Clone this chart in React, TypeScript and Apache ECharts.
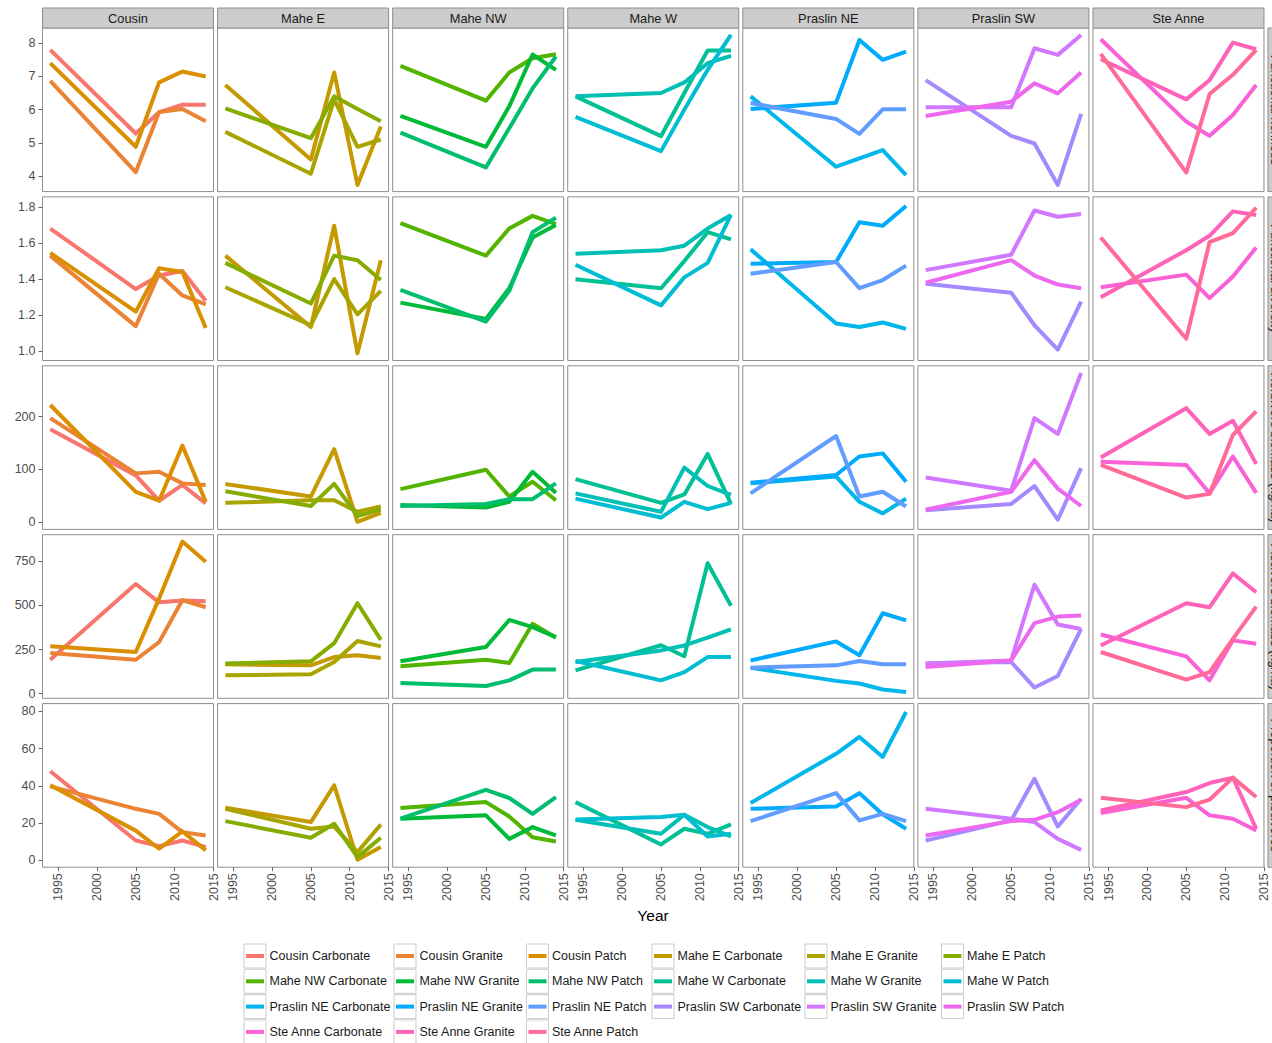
import React, { useEffect, useRef } from "react";
import * as echarts from "echarts";

// ---- data ----
const years = [1994, 2005, 2008, 2011, 2014];
const sites = ["Cousin", "Mahe E", "Mahe NW", "Mahe W", "Praslin NE", "Praslin SW", "Ste Anne"];
const habitats = ["Carbonate", "Granite", "Patch"];
const metricTitles = [
  "Functional richness",
  "Functional diversity",
  "Herbivore biomass (kg/ha)",
  "Piscivore biomass (kg/ha)",
  "Proportion of piscivores",
];

// one row per site x habitat (site-major), one value per survey year
const richness = [
  [7.8, 5.28, 5.92, 6.15, 6.15],
  [6.87, 4.12, 5.93, 6.02, 5.65],
  [7.4, 4.88, 6.82, 7.15, 7.0],
  [6.74, 4.5, 7.12, 3.73, 5.49],
  [5.33, 4.07, 6.3, 4.88, 5.1],
  [6.04, 5.14, 6.4, 6.02, 5.65],
  [7.32, 6.27, 7.12, 7.55, 7.67],
  [5.81, 4.88, 6.1, 7.66, 7.2],
  [5.31, 4.26, 5.44, 6.64, 7.6],
  [6.4, 5.2, 6.5, 7.78, 7.78],
  [6.4, 6.5, 6.82, 7.4, 7.62],
  [5.78, 4.75, 6.0, 7.2, 8.25],
  [6.4, 4.28, 4.53, 4.78, 4.03],
  [6.02, 6.21, 8.1, 7.5, 7.75],
  [6.2, 5.72, 5.27, 6.01, 6.01],
  [6.89, 5.21, 4.98, 3.73, 5.87],
  [6.07, 6.07, 7.85, 7.65, 8.25],
  [5.81, 6.24, 6.79, 6.49, 7.12],
  [8.12, 5.64, 5.21, 5.84, 6.74],
  [7.52, 6.31, 6.89, 8.02, 7.82],
  [7.68, 4.1, 6.47, 7.05, 7.8],
];

const diversity = [
  [1.68, 1.345, 1.42, 1.445, 1.28],
  [1.53, 1.14, 1.43, 1.31, 1.26],
  [1.545, 1.22, 1.46, 1.44, 1.13],
  [1.53, 1.135, 1.695, 0.99, 1.505],
  [1.355, 1.145, 1.4, 1.205, 1.335],
  [1.49, 1.265, 1.53, 1.505, 1.395],
  [1.71, 1.53, 1.68, 1.75, 1.705],
  [1.27, 1.18, 1.35, 1.63, 1.7],
  [1.34, 1.165, 1.335, 1.66, 1.74],
  [1.4, 1.35, 1.5, 1.66, 1.62],
  [1.54, 1.56, 1.585, 1.68, 1.755],
  [1.48, 1.255, 1.41, 1.49, 1.755],
  [1.565, 1.155, 1.135, 1.16, 1.125],
  [1.485, 1.495, 1.715, 1.695, 1.805],
  [1.43, 1.495, 1.35, 1.395, 1.475],
  [1.375, 1.325, 1.145, 1.01, 1.275],
  [1.45, 1.535, 1.78, 1.745, 1.76],
  [1.38, 1.505, 1.42, 1.37, 1.35],
  [1.355, 1.425, 1.295, 1.415, 1.575],
  [1.3, 1.56, 1.64, 1.775, 1.755],
  [1.63, 1.07, 1.605, 1.655, 1.795],
];

const herbivoreBiomass = [
  [176, 88, 40, 70, 35],
  [197, 92, 95, 73, 70],
  [222, 57, 40, 145, 38],
  [72, 48, 138, 0, 17],
  [36, 41, 41, 19, 29],
  [58, 30, 72, 11, 23],
  [62, 99, 48, 76, 41],
  [32, 27, 38, 95, 55],
  [30, 34, 43, 43, 73],
  [81, 36, 52, 129, 34],
  [54, 19, 103, 68, 51],
  [44, 8, 38, 24, 36],
  [73, 86, 38, 16, 44],
  [74, 89, 124, 130, 76],
  [54, 163, 48, 57, 29],
  [22, 34, 68, 4, 102],
  [84, 59, 197, 167, 283],
  [23, 57, 117, 63, 30],
  [114, 108, 54, 124, 55],
  [122, 216, 167, 192, 110],
  [108, 46, 53, 165, 210],
];

const piscivoreBiomass = [
  [192, 622, 518, 528, 524],
  [230, 192, 292, 531, 490],
  [268, 236, 540, 863, 748],
  [166, 160, 207, 217, 202],
  [104, 109, 179, 298, 268],
  [170, 183, 286, 513, 305],
  [155, 192, 173, 396, 317],
  [183, 264, 418, 377, 320],
  [60, 43, 75, 136, 136],
  [132, 274, 212, 740, 499],
  [179, 245, 273, 317, 364],
  [185, 75, 122, 207, 207],
  [147, 72, 57, 23, 9],
  [188, 296, 217, 456, 415],
  [147, 160, 185, 166, 166],
  [170, 179, 34, 100, 367],
  [170, 188, 618, 392, 367],
  [151, 188, 400, 437, 443],
  [335, 211, 75, 302, 283],
  [273, 513, 490, 682, 575],
  [236, 79, 122, 310, 494],
];

const piscivoreShare = [
  [47.8, 10.7, 7.7, 10.7, 7.2],
  [39.7, 27.7, 25, 15.2, 13.4],
  [40.3, 16, 6.3, 15.6, 5.4],
  [28.3, 20.6, 40.3, 0.4, 7.2],
  [27.7, 17, 18.2, 4.5, 19.3],
  [21.1, 12.2, 19.7, 1.8, 12.2],
  [28.1, 31.3, 23.6, 12.5, 10.2],
  [22.4, 24.2, 11.6, 17.9, 13.4],
  [22.4, 37.9, 33.5, 25, 34],
  [31.3, 8.6, 17, 14.3, 19.3],
  [21.8, 14.3, 24.5, 17.9, 12.9],
  [22, 23.3, 24.5, 12.9, 14.3],
  [30.8, 57.2, 66.2, 55.5, 79.6],
  [27.7, 29, 36.1, 24.7, 17],
  [21.1, 36.1, 21.5, 25, 21.1],
  [10.7, 21.5, 43.8, 18.2, 33.1],
  [27.7, 22.4, 20.6, 11.6, 5.7],
  [13.4, 21.1, 21.8, 25.9, 32.6],
  [25.4, 33.6, 24.2, 22.4, 16.1],
  [26.8, 36.7, 41.5, 44.4, 17],
  [33.6, 28.6, 32.6, 44.4, 34],
];

const metrics = [richness, diversity, herbivoreBiomass, piscivoreBiomass, piscivoreShare];

const xTicks = [1995, 2000, 2005, 2010, 2015];
const xLimits = [1993, 2015];
const yTicks = [
  [4, 5, 6, 7, 8],
  [1.0, 1.2, 1.4, 1.6, 1.8],
  [0, 100, 200],
  [0, 250, 500, 750],
  [0, 20, 40, 60, 80],
];
const yLimits = [
  [3.53, 8.46],
  [0.95, 1.855],
  [-14.5, 296.5],
  [-27, 902],
  [-3.6, 84.1],
];
const yDecimals = [0, 1, 0, 0, 0];

// ---- layout / style ----
const FONT = "'Liberation Sans', Arial, Helvetica, sans-serif";
const PANEL_LEFT = 42.5;
const PANEL_PITCH_X = 175.08;
const PANEL_W = 171;
const PANEL_TOP = 28;
const PANEL_PITCH_Y = 168.9;
const PANEL_H = 163.6;
const STRIP_TOP = 8;
const BORDER = "#8F8F8F";
const STRIP_FILL = "#CCCCCC";
const AXIS_TEXT = "#4D4D4D";
const TICK = "#666666";
const LEGEND_COLS = [244, 394, 526.5, 652, 805, 941.5];
const LEGEND_ROWS = [956, 981.3, 1006.6, 1031.9];

// ggplot-style evenly spaced HCL hues
function hclHex(h: number, c: number, l: number): string {
  const hr = (h * Math.PI) / 180;
  const U = c * Math.cos(hr);
  const V = c * Math.sin(hr);
  const Xn = 95.047, Yn = 100, Zn = 108.883;
  const den = Xn + 15 * Yn + 3 * Zn;
  const un = (4 * Xn) / den;
  const vn = (9 * Yn) / den;
  const Y = l > 8 ? Yn * Math.pow((l + 16) / 116, 3) : (Yn * l) / 903.3;
  const u = U / (13 * l) + un;
  const v = V / (13 * l) + vn;
  const X = (9 * Y * u) / (4 * v);
  const Z = (Y * (12 - 3 * u - 20 * v)) / (4 * v);
  const x = X / 100, y = Y / 100, z = Z / 100;
  const lin = [
    3.2404542 * x - 1.5371385 * y - 0.4985314 * z,
    -0.969266 * x + 1.8760108 * y + 0.041556 * z,
    0.0556434 * x - 0.2040259 * y + 1.0572252 * z,
  ];
  const hex = lin
    .map((ch) => {
      const g = ch <= 0.0031308 ? 12.92 * ch : 1.055 * Math.pow(ch, 1 / 2.4) - 0.055;
      const n = Math.round(Math.min(1, Math.max(0, g)) * 255);
      return n.toString(16).padStart(2, "0");
    })
    .join("");
  return "#" + hex;
}

const seriesNames: string[] = [];
sites.forEach((s) => habitats.forEach((h) => seriesNames.push(`${s} ${h}`)));
const palette = seriesNames.map((_, i) => hclHex(15 + (i * 360) / seriesNames.length, 100, 65));

function buildOption() {
  const grids: any[] = [];
  const xAxes: any[] = [];
  const yAxes: any[] = [];
  const series: any[] = [];
  const graphics: any[] = [];

  metrics.forEach((table, r) => {
    sites.forEach((site, c) => {
      const idx = r * sites.length + c;
      const left = PANEL_LEFT + c * PANEL_PITCH_X;
      const top = PANEL_TOP + r * PANEL_PITCH_Y;
      grids.push({
        left,
        top,
        width: PANEL_W,
        height: PANEL_H,
        show: true,
        borderColor: BORDER,
        borderWidth: 1,
        backgroundColor: "#FFFFFF",
      });
      const bottomRow = r === metrics.length - 1;
      xAxes.push({
        type: "value",
        gridIndex: idx,
        min: xLimits[0],
        max: xLimits[1],
        axisLine: { show: false, onZero: false },
        splitLine: { show: false },
        axisTick: {
          show: bottomRow,
          customValues: xTicks,
          length: 4,
          lineStyle: { color: TICK, width: 1 },
        },
        axisLabel: {
          show: bottomRow,
          customValues: xTicks,
          rotate: 90,
          margin: 6,
          fontSize: 12.5,
          fontFamily: FONT,
          color: AXIS_TEXT,
          formatter: (v: number) => String(Math.round(v)),
        },
      });
      const firstCol = c === 0;
      yAxes.push({
        type: "value",
        gridIndex: idx,
        min: yLimits[r][0],
        max: yLimits[r][1],
        axisLine: { show: false, onZero: false },
        splitLine: { show: false },
        axisTick: {
          show: firstCol,
          customValues: yTicks[r],
          length: 4,
          lineStyle: { color: TICK, width: 1 },
        },
        axisLabel: {
          show: firstCol,
          customValues: yTicks[r],
          margin: 7,
          fontSize: 12.5,
          fontFamily: FONT,
          color: AXIS_TEXT,
          formatter: (v: number) => v.toFixed(yDecimals[r]),
        },
      });
      habitats.forEach((hab, h) => {
        const k = c * habitats.length + h;
        series.push({
          type: "line",
          name: `${site} ${hab}`,
          xAxisIndex: idx,
          yAxisIndex: idx,
          data: years.map((yr, i) => [yr, table[k][i]]),
          symbol: "none",
          showSymbol: false,
          silent: true,
          lineStyle: { width: 4, color: palette[k], cap: "butt", join: "round" },
          itemStyle: { color: palette[k] },
          emphasis: { disabled: true },
        });
      });
    });
  });

  // site strips across the top
  sites.forEach((site, c) => {
    const left = PANEL_LEFT + c * PANEL_PITCH_X;
    graphics.push({
      type: "rect",
      shape: { x: left, y: STRIP_TOP, width: PANEL_W, height: PANEL_TOP - STRIP_TOP },
      style: { fill: STRIP_FILL, stroke: BORDER, lineWidth: 1 },
      silent: true,
    });
    graphics.push({
      type: "text",
      x: left + PANEL_W / 2,
      y: (STRIP_TOP + PANEL_TOP) / 2 + 0.5,
      style: {
        text: site,
        fontSize: 12.8,
        fontFamily: FONT,
        fill: "#1A1A1A",
        align: "center",
        verticalAlign: "middle",
      },
      silent: true,
    });
  });

  // metric strips down the right side
  const stripX = PANEL_LEFT + (sites.length - 1) * PANEL_PITCH_X + PANEL_W + 4;
  metricTitles.forEach((title, r) => {
    const top = PANEL_TOP + r * PANEL_PITCH_Y;
    graphics.push({
      type: "rect",
      shape: { x: stripX, y: top, width: 22, height: PANEL_H },
      style: { fill: STRIP_FILL, stroke: BORDER, lineWidth: 1 },
      silent: true,
    });
    graphics.push({
      type: "text",
      x: stripX + 8,
      y: top + PANEL_H / 2,
      rotation: -Math.PI / 2,
      style: {
        text: title,
        fontSize: 12.8,
        fontFamily: FONT,
        fill: "#1A1A1A",
        align: "center",
        verticalAlign: "middle",
      },
      silent: true,
    });
  });

  // x-axis title
  graphics.push({
    type: "text",
    x: 653,
    y: 915,
    style: {
      text: "Year",
      fontSize: 15.5,
      fontFamily: FONT,
      fill: "#000000",
      align: "center",
      verticalAlign: "middle",
    },
    silent: true,
  });

  // legend, filled row by row
  seriesNames.forEach((name, k) => {
    const col = k % LEGEND_COLS.length;
    const row = Math.floor(k / LEGEND_COLS.length);
    const x = LEGEND_COLS[col];
    const cy = LEGEND_ROWS[row];
    graphics.push({
      type: "rect",
      shape: { x, y: cy - 12, width: 22, height: 24 },
      style: { fill: "#FFFFFF", stroke: "#CCCCCC", lineWidth: 1 },
      silent: true,
    });
    graphics.push({
      type: "line",
      shape: { x1: x + 2, y1: cy, x2: x + 20, y2: cy },
      style: { stroke: palette[k], lineWidth: 4 },
      silent: true,
    });
    graphics.push({
      type: "text",
      x: x + 25.5,
      y: cy,
      style: {
        text: name,
        fontSize: 12.5,
        fontFamily: FONT,
        fill: "#1A1A1A",
        align: "left",
        verticalAlign: "middle",
      },
      silent: true,
    });
  });

  return {
    animation: false,
    backgroundColor: "#FFFFFF",
    textStyle: { fontFamily: FONT },
    grid: grids,
    xAxis: xAxes,
    yAxis: yAxes,
    series,
    graphic: graphics,
  };
}

export default function App() {
  const ref = useRef<HTMLDivElement>(null);
  useEffect(() => {
    if (!ref.current) return;
    const chart = echarts.init(ref.current, undefined, { renderer: "svg" });
    chart.setOption(buildOption() as any);
    return () => chart.dispose();
  }, []);
  return (
    <div
      ref={ref}
      style={{ position: "absolute", left: 0, top: 0, width: 1272, height: 1043, background: "#FFFFFF" }}
    />
  );
}
